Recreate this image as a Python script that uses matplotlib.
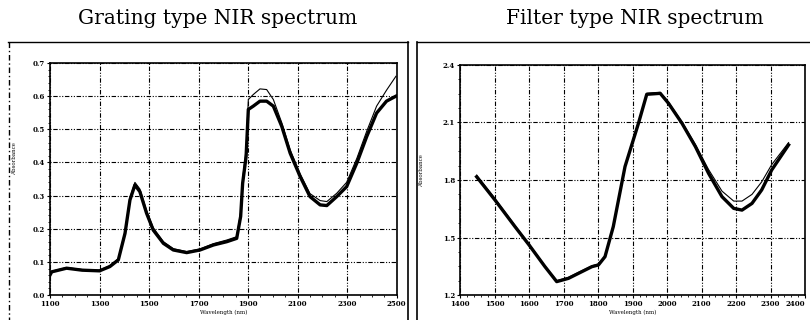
import matplotlib
matplotlib.use("Agg")
from matplotlib import pyplot as plt
from matplotlib.lines import Line2D

# grating type spectrum
grat_wl = [1100, 1107, 1167, 1230, 1300, 1342, 1376, 1403, 1423, 1443, 1463, 1490, 1517,
           1558, 1598, 1652, 1706, 1760, 1814, 1854, 1870, 1878, 1892, 1901, 1921,
           1948, 1975, 2002, 2036, 2070, 2110, 2150, 2191, 2218, 2258, 2298, 2339,
           2379, 2419, 2459, 2497]
grat_abs = [0.06, 0.070, 0.081, 0.075, 0.073, 0.086, 0.106, 0.186, 0.287, 0.332, 0.312,
            0.247, 0.196, 0.156, 0.136, 0.128, 0.136, 0.151, 0.161, 0.171, 0.237,
            0.337, 0.418, 0.560, 0.570, 0.585, 0.585, 0.570, 0.509, 0.428, 0.358,
            0.297, 0.272, 0.270, 0.297, 0.327, 0.398, 0.478, 0.549, 0.585, 0.600]
grat_abs_hi = [0.06, 0.072, 0.083, 0.077, 0.075, 0.089, 0.110, 0.192, 0.294, 0.340, 0.320,
               0.255, 0.203, 0.161, 0.140, 0.131, 0.139, 0.155, 0.166, 0.176, 0.250,
               0.350, 0.440, 0.590, 0.605, 0.622, 0.620, 0.590, 0.520, 0.438, 0.366,
               0.306, 0.285, 0.282, 0.307, 0.340, 0.412, 0.494, 0.570, 0.618, 0.660]
grat_xticks = [1100, 1300, 1500, 1700, 1900, 2100, 2300, 2500]
grat_yticks = [0.0, 0.1, 0.2, 0.3, 0.4, 0.5, 0.6, 0.7]

# filter type spectrum
filt_wl = [1448, 1501, 1559, 1600, 1646, 1680, 1714, 1753, 1782, 1801, 1820, 1844,
           1878, 1917, 1941, 1980, 2004, 2043, 2082, 2120, 2159, 2193, 2217, 2246,
           2274, 2303, 2352]
filt_abs = [1.817, 1.696, 1.557, 1.461, 1.348, 1.270, 1.287, 1.322, 1.348, 1.357, 1.400,
            1.557, 1.870, 2.096, 2.247, 2.252, 2.200, 2.096, 1.974, 1.835, 1.713,
            1.652, 1.643, 1.678, 1.748, 1.852, 1.983]
filt_abs_hi = [1.825, 1.703, 1.563, 1.466, 1.352, 1.275, 1.292, 1.327, 1.352, 1.362, 1.405,
               1.562, 1.875, 2.100, 2.252, 2.257, 2.206, 2.103, 1.985, 1.855, 1.742,
               1.690, 1.690, 1.725, 1.790, 1.880, 1.995]
filt_xticks = [1400, 1500, 1600, 1700, 1800, 1900, 2000, 2100, 2200, 2300, 2400]
filt_yticks = [1.2, 1.5, 1.8, 2.1, 2.4]

plt.rcParams['font.family'] = ['DejaVu Serif']
fig = plt.figure(figsize=(8.1, 3.2), dpi=100)

grid_kw = dict(color='black', linestyle=(0, (1, 1.5, 4, 1.5, 1, 1.5)), linewidth=0.8)

# left panel
ax1 = fig.add_axes([0.0617, 0.078, 0.428, 0.725])
ax1.plot(grat_wl, grat_abs_hi, color='black', linewidth=0.8)
ax1.plot(grat_wl, grat_abs, color='black', linewidth=2.4)
ax1.set_xlim(1100, 2500)
ax1.set_ylim(0.0, 0.7)
ax1.set_xticks(grat_xticks)
ax1.set_yticks(grat_yticks)
ax1.set_xticklabels([str(v) for v in grat_xticks])
ax1.set_yticklabels(['%.1f' % v for v in grat_yticks])
ax1.grid(True, **grid_kw)
ax1.set_xlabel('Wavelength (nm)', fontsize=4, labelpad=1)
ax1.set_ylabel('Absorbance', fontsize=4)
ax1.yaxis.set_label_coords(-0.095, 0.59)

# right panel
ax2 = fig.add_axes([0.568, 0.078, 0.426, 0.719])
ax2.plot(filt_wl, filt_abs_hi, color='black', linewidth=0.8)
ax2.plot(filt_wl, filt_abs, color='black', linewidth=2.4)
ax2.set_xlim(1400, 2400)
ax2.set_ylim(1.2, 2.4)
ax2.set_xticks(filt_xticks)
ax2.set_yticks(filt_yticks)
ax2.set_xticklabels([str(v) for v in filt_xticks])
ax2.set_yticklabels(['%.1f' % v for v in filt_yticks])
ax2.grid(True, **grid_kw)
ax2.set_xlabel('Wavelength (nm)', fontsize=4, labelpad=1)
ax2.set_ylabel('Absorbance', fontsize=4)
ax2.yaxis.set_label_coords(-0.105, 0.54)

for ax in (ax1, ax2):
    ax.tick_params(labelsize=5, length=2, width=0.8, pad=1.5, direction='out')
    ax.minorticks_on()
    ax.tick_params(which='minor', length=1.5, width=0.6)
    for lab in ax.get_xticklabels() + ax.get_yticklabels():
        lab.set_fontweight('bold')
    for s in ax.spines.values():
        s.set_linewidth(1.2)

# keep the last right-hand tick label inside the figure
ax2.get_xticklabels()[-1].set_horizontalalignment('right')

# outer frames around each panel
def fx(px):
    return px / 810.0

def fy(py):
    return 1 - py / 320.0

fig.add_artist(Line2D([fx(8), fx(408)], [fy(42), fy(42)], color='black', lw=1.0))
fig.add_artist(Line2D([fx(9), fx(9)], [fy(42), fy(320)], color='black', lw=1.0,
                      linestyle=(0, (4, 2, 1, 2))))
fig.add_artist(Line2D([fx(408), fx(408)], [fy(42), fy(320)], color='black', lw=1.2))
fig.add_artist(Line2D([fx(417), fx(810)], [fy(42), fy(42)], color='black', lw=1.0))
fig.add_artist(Line2D([fx(417), fx(417)], [fy(42), fy(320)], color='black', lw=1.2))

fig.text(fx(218), fy(18), 'Grating type NIR spectrum', ha='center', va='center', fontsize=14.5)
fig.text(fx(635), fy(18), 'Filter type NIR spectrum', ha='center', va='center', fontsize=14.5)

fig.savefig('out.png', dpi=100)
